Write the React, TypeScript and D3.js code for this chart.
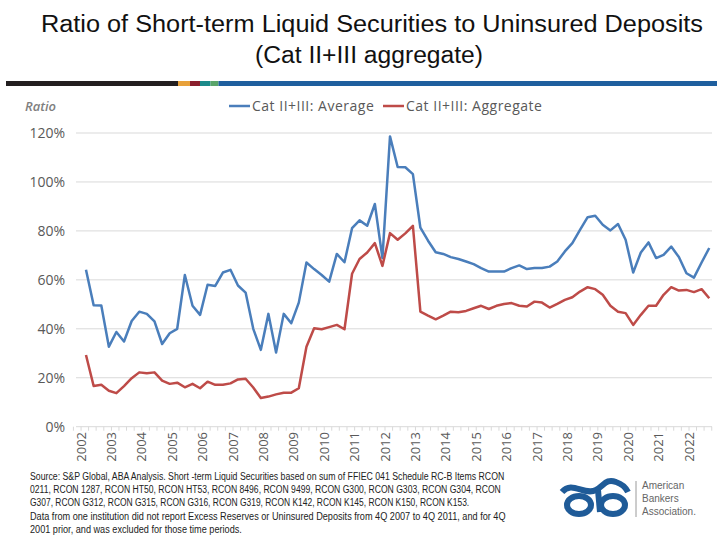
import React, { useLayoutEffect, useRef, useState } from "react";
import * as d3 from "d3";

// ---- Data (quarterly, 2002Q1 .. 2022Q3), values in % ----
const startYear = 2002;
const averageValues = [
  64.1, 49.6, 49.5, 32.7, 38.7, 34.8, 43.2, 47.0, 46.1, 43.0,
  33.8, 38.2, 40.0, 62.0, 49.4, 45.7, 58.0, 57.5, 63.0, 64.1,
  57.7, 54.8, 40.0, 31.4, 46.1, 30.3, 46.1, 42.3, 50.7, 67.1,
  64.4, 62.0, 59.3, 70.6, 67.2, 81.1, 84.3, 82.1, 91.0, 68.9,
  118.6, 106.1, 106.0, 103.2, 81.3, 76.0, 71.3, 70.6, 69.3, 68.5,
  67.5, 66.4, 64.8, 63.4, 63.4, 63.4, 64.8, 65.9, 64.4, 64.8,
  64.8, 65.4, 67.5, 71.6, 75.0, 80.4, 85.6, 86.2, 82.5, 80.2,
  82.8, 76.4, 63.0, 71.2, 75.3, 68.9, 70.2, 73.6, 69.3, 62.7,
  60.9, 67.1, 73.0,
];
const aggregateValues = [
  29.3, 16.6, 17.1, 14.7, 13.7, 16.6, 19.8, 22.2, 21.8, 22.2,
  18.8, 17.5, 18.0, 16.1, 17.5, 15.7, 18.4, 17.1, 17.1, 17.7,
  19.3, 19.6, 16.0, 11.7, 12.3, 13.2, 13.9, 13.9, 15.7, 32.7,
  40.2, 39.8, 40.7, 41.6, 39.8, 62.5, 68.5, 71.2, 75.0, 65.7,
  79.1, 76.4, 79.0, 82.1, 47.0, 45.4, 43.9, 45.4, 47.0, 46.8,
  47.3, 48.4, 49.4, 48.1, 49.4, 50.1, 50.5, 49.4, 49.1, 51.1,
  50.7, 48.7, 50.2, 51.8, 52.9, 55.2, 57.0, 56.2, 53.9, 49.4,
  47.0, 46.4, 41.6, 45.7, 49.4, 49.4, 53.9, 57.0, 55.6, 55.9,
  55.0, 56.2, 52.5,
];
const yTicks = [0, 20, 40, 60, 80, 100, 120];
const yearLabels = d3.range(2002, 2023);
const seriesNames = ["Cat II+III: Average", "Cat II+III: Aggregate"];
const seriesColors = ["#4a7ebb", "#be4b48"];

const titleLines = [
  "Ratio of Short-term Liquid Securities to Uninsured Deposits",
  "(Cat II+III aggregate)",
];
const footnoteLines = [
  "Source: S&P Global, ABA Analysis. Short -term Liquid Securities based on sum of FFIEC 041 Schedule RC-B Items RCON",
  "0211, RCON 1287, RCON HT50, RCON HT53, RCON 8496, RCON 9499, RCON G300, RCON G303, RCON G304, RCON",
  "G307, RCON G312, RCON G315, RCON G316, RCON G319, RCON K142, RCON K145, RCON K150, RCON K153.",
  "Data from one institution did not report Excess Reserves or Uninsured Deposits from 4Q 2007 to 4Q 2011, and for 4Q",
  "2001 prior, and was excluded for those time periods.",
];
const footnoteWidths = [474, 471, 439, 476, 212];
const logoWords = ["American", "Bankers", "Association."];

const quarterDate = (i: number) =>
  new Date(startYear + Math.floor(i / 4), (i % 4) * 3 + 2, 1);

export default function App() {
  const W = 717;
  const H = 538;
  const x = d3
    .scaleTime()
    .domain([new Date(2001, 10, 1), new Date(2022, 9, 4)])
    .range([76, 712]);
  const y = d3.scaleLinear().domain([0, 120]).range([426.7, 133]);

  const avg = averageValues.map((v, i) => ({ d: quarterDate(i), v }));
  const agg = aggregateValues.map((v, i) => ({ d: quarterDate(i), v }));
  const line = d3
    .line<{ d: Date; v: number }>()
    .x((p) => x(p.d))
    .y((p) => y(p.v));

  const qTicks = d3.timeMonth.every(3)!.range(new Date(2002, 0, 1), new Date(2022, 10, 1));
  qTicks.unshift(new Date(2001, 9, 1));

  const font = "'Open Sans', 'DejaVu Sans', sans-serif";
  const textGray = "#595959";

  const footRefs = useRef<(SVGTextElement | null)[]>([]);
  const [footScales, setFootScales] = useState<number[]>(footnoteLines.map(() => 0.77));
  useLayoutEffect(() => {
    const s = footRefs.current.map((el, i) => {
      if (!el) return 0.77;
      const w = el.getComputedTextLength();
      return w > 0 ? footnoteWidths[i] / w : 0.77;
    });
    setFootScales(s);
  }, []);

  return (
    <svg
      width={W}
      height={H}
      viewBox={`0 0 ${W} ${H}`}
      style={{ position: "absolute", left: 0, top: 0, background: "#fff" }}
    >
      <rect x={0} y={0} width={W} height={H} fill="#ffffff" />
      {/* Title */}
      <text
        x={372}
        y={32}
        textAnchor="middle"
        fontFamily="'Liberation Sans', Arial, sans-serif"
        fontSize={23}
        fill="#111"
        textLength={662}
        lengthAdjust="spacingAndGlyphs"
      >
        {titleLines[0]}
      </text>
      <text
        x={369}
        y={63}
        textAnchor="middle"
        fontFamily="'Liberation Sans', Arial, sans-serif"
        fontSize={23}
        fill="#111"
        textLength={228}
        lengthAdjust="spacingAndGlyphs"
      >
        {titleLines[1]}
      </text>
      {/* Color bar */}
      <rect x={6} y={81} width={172} height={5} fill="#231f20" />
      <rect x={178} y={81} width={12} height={5} fill="#e8a13a" />
      <rect x={190} y={81} width={10} height={5} fill="#8a1f2d" />
      <rect x={200} y={81} width={10.5} height={5} fill="#1c8a8a" />
      <rect x={210.5} y={81} width={8} height={5} fill="#5aa56a" />
      <rect x={218.5} y={81} width={498.5} height={5} fill="#1f5f9e" />

      {/* Axis title */}
      <text
        x={25}
        y={111}
        fontFamily={font}
        fontSize={13}
        fontStyle="italic"
        fontWeight={600}
        fill="#7f7f7f"
      >
        Ratio
      </text>

      {/* Legend */}
      {seriesNames.map((name, i) => {
        const lx = i === 0 ? 229 : 383;
        return (
          <g key={name}>
            <line x1={lx} x2={lx + 21} y1={106} y2={106} stroke={seriesColors[i]} strokeWidth={2.5} />
            <text
              x={lx + 23}
              y={111}
              fontFamily={font}
              fontSize={14}
              fill={textGray}
              letterSpacing={0.5}
            >
              {name}
            </text>
          </g>
        );
      })}

      {/* Gridlines & y labels */}
      {yTicks.map((t) => (
        <g key={t}>
          <line x1={76} x2={712} y1={y(t)} y2={y(t)} stroke="#d9d9d9" strokeWidth={1} />
          <text
            x={65}
            y={y(t)}
            dy="0.35em"
            textAnchor="end"
            fontFamily={font}
            fontSize={14}
            fill={textGray}
          >
            {t}%
          </text>
        </g>
      ))}

      {/* Quarterly ticks */}
      {qTicks.map((d, i) => (
        <line key={i} x1={x(d)} x2={x(d)} y1={y(0)} y2={y(0) + 4} stroke="#d9d9d9" strokeWidth={1} />
      ))}

      {/* Year labels */}
      {yearLabels.map((yr) => {
        const px = x(new Date(yr, 0, 1));
        return (
          <text
            key={yr}
            transform={`translate(${px},${432}) rotate(-90)`}
            textAnchor="end"
            dy="0.35em"
            fontFamily={font}
            fontSize={13}
            fill={textGray}
          >
            {yr}
          </text>
        );
      })}

      {/* Series lines */}
      <path d={line(avg) || ""} fill="none" stroke={seriesColors[0]} strokeWidth={2.5} strokeLinejoin="round" />
      <path d={line(agg) || ""} fill="none" stroke={seriesColors[1]} strokeWidth={2.5} strokeLinejoin="round" />

      {/* Footnote */}
      {footnoteLines.map((t, i) => (
        <g key={i} transform={`translate(30,${480 + i * 13.2}) scale(${footScales[i]},1)`}>
          <text
            ref={(el) => {
              footRefs.current[i] = el;
            }}
            x={0}
            y={0}
            fontFamily="'Liberation Sans', Arial, sans-serif"
            fontSize={11.5}
            fill="#222"
          >
            {t}
          </text>
        </g>
      ))}

      {/* ABA logo */}
      <g fill="none" stroke="#1f5b98" strokeWidth={6}>
        <ellipse cx={579} cy={505} rx={12} ry={9} />
        <ellipse cx={613} cy={505} rx={12} ry={9} />
        <path d="M562 492 C572 480, 584 496, 596 490 C604 486, 606 478, 616 482 C622 484, 626 488, 628 492" />
        <path d="M598 490 L600 512" />
      </g>
      <line x1={636} x2={636} y1={481} y2={517} stroke="#9a9a9a" strokeWidth={1} />
      {logoWords.map((w, i) => (
        <text
          key={w}
          x={642}
          y={489 + i * 13}
          fontFamily="'Liberation Sans', Arial, sans-serif"
          fontSize={10}
          fill="#666"
        >
          {w}
        </text>
      ))}
    </svg>
  );
}
